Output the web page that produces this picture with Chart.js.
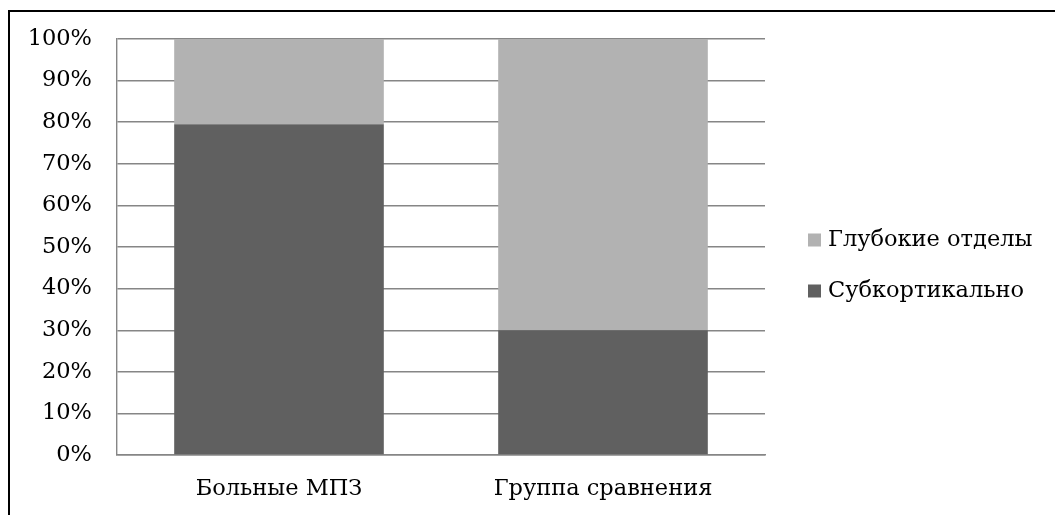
<!DOCTYPE html>
<html lang="ru">
<head>
<meta charset="utf-8">
<title>Локализация очагов</title>
<script src="https://cdn.jsdelivr.net/npm/chart.js@4/dist/chart.umd.min.js"></script>
<style>
  html, body { margin: 0; padding: 0; background: #fff; overflow: hidden; }
  #wrap { position: relative; width: 1055px; height: 515px; }
  #frame {
    position: absolute; left: 8px; top: 10px; right: -20px; bottom: -20px;
    border: 2px solid #000; pointer-events: none;
  }
</style>
</head>
<body>
<div id="wrap">
  <canvas id="lokalizaciya"></canvas>
  <div id="frame"></div>
</div>
<script>
// Данные
const groups = ['Больные МПЗ', 'Группа сравнения'];
const subcortical = [79.5, 30];
const deep = [20.5, 70];
const percentTicks = [0, 10, 20, 30, 40, 50, 60, 70, 80, 90, 100];

const fontFamily = '"DejaVu Serif", "Liberation Serif", serif';
const fontSize = 22.5;
Chart.defaults.font.family = fontFamily;
Chart.defaults.font.size = fontSize;
Chart.defaults.color = '#000';

// легенда справа, как в Word (верхняя серия сверху)
const sideLegend = {
  id: 'sideLegend',
  afterDraw(chart) {
    const ctx = chart.ctx;
    const rows = [240, 291];
    const sets = chart.data.datasets.slice().reverse();
    ctx.save();
    ctx.font = fontSize + 'px ' + fontFamily;
    ctx.textBaseline = 'middle';
    ctx.textAlign = 'left';
    sets.forEach((ds, i) => {
      const cy = rows[i];
      ctx.fillStyle = ds.backgroundColor;
      ctx.fillRect(808, cy - 6.5, 13, 13);
      ctx.fillStyle = '#000';
      ctx.fillText(ds.label, 828, cy);
    });
    ctx.restore();
  }
};

new Chart(
  document.getElementById('lokalizaciya'),
  {
    type: 'bar',
    data: {
      labels: groups,
      datasets: [
        {
          label: 'Субкортикально',
          data: subcortical,
          backgroundColor: '#606060',
          borderWidth: 0,
          barPercentage: 0.647,
          categoryPercentage: 1
        },
        {
          label: 'Глубокие отделы',
          data: deep,
          backgroundColor: '#b2b2b2',
          borderWidth: 0,
          barPercentage: 0.647,
          categoryPercentage: 1
        }
      ]
    },
    options: {
      responsive: true,
      maintainAspectRatio: false,
      animation: false,
      layout: {
        padding: { left: 0, top: 39, right: 290, bottom: 0 }
      },
      plugins: {
        legend: { display: false },
        tooltip: { enabled: false }
      },
      scales: {
        x: {
          stacked: true,
          grid: { display: false, drawTicks: false },
          border: { display: true, color: '#868686', width: 1.4 },
          ticks: { padding: 21 },
          afterFit: axis => { axis.height = 60; }
        },
        y: {
          stacked: true,
          min: 0,
          max: 100,
          afterBuildTicks: axis => {
            axis.ticks = percentTicks.map(v => ({ value: v }));
          },
          afterFit: axis => { axis.width = 117; },
          grid: { color: '#868686', lineWidth: 1.4, drawTicks: false },
          border: { display: true, color: '#868686', width: 1.4 },
          ticks: {
            padding: 25,
            callback: v => v + '%'
          }
        }
      }
    },
    plugins: [sideLegend]
  }
);
</script>
</body>
</html>
